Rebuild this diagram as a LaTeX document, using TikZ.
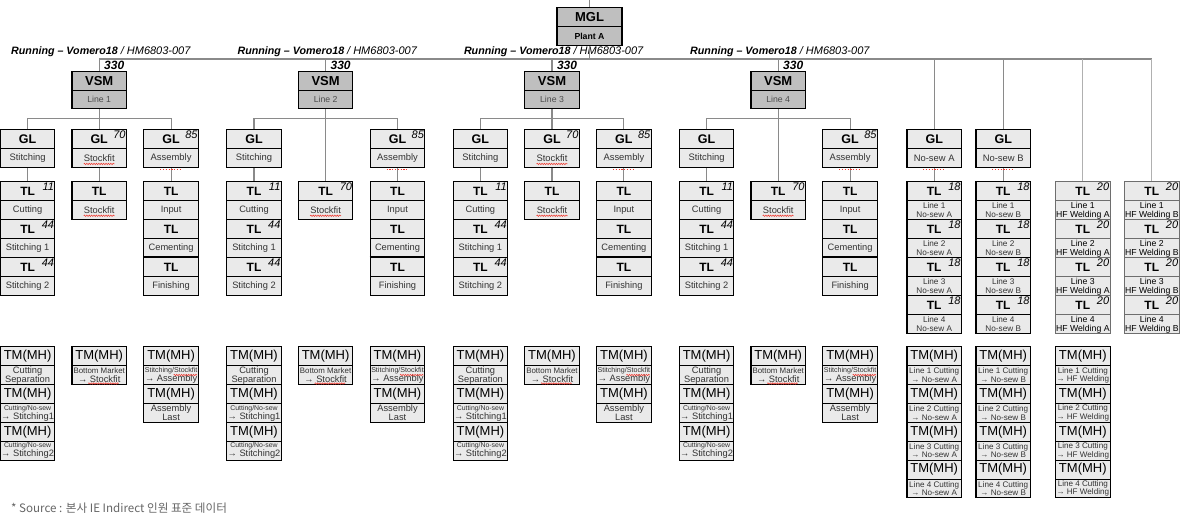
\documentclass[tikz,border=0pt]{standalone}
\usepackage{fontspec}
\setmainfont{Liberation Sans}
\newfontfamily\krfont{Noto Sans CJK KR}
\usetikzlibrary{decorations.pathmorphing}
\definecolor{boxfill}{HTML}{EAEAEA}
\definecolor{vsmfill}{HTML}{BFBFBF}
\definecolor{connc}{HTML}{8A8A8A}
\definecolor{connl}{HTML}{B0B0B0}
\definecolor{subtxt}{HTML}{333333}
\definecolor{hfline}{HTML}{6E6E6E}
\definecolor{srcgray}{HTML}{666666}
\definecolor{spellred}{HTML}{F03A30}
\newcommand\fsz[1]{\fontsize{#1}{#1}\selectfont}
\newcommand\duo[6]{%
  \node[#1t] (#2) at ({#3},{#4}) {#5};
  \node[#1s] (s#2) at ({#3},{#4+19}) {#6};}
\newcommand\nm[2]{\node[numsty] (n#1) at ([xshift=-1.2pt,yshift=-1.2pt]#1.north east) {#2};}
% wavy red mark under a word: node, left offset, right offset, down offset
\newcommand\sq[4]{\draw[redsq] ([xshift=#2pt,yshift=-#4pt]#1.center) -- ([xshift=#3pt,yshift=-#4pt]#1.center);}
\newcommand\dt[1]{\draw[reddot] ([xshift=-11pt,yshift=-1.3pt]#1.south) -- ([xshift=11pt,yshift=-1.3pt]#1.south);}
\tikzset{
  x=1pt,y=-1pt,
  cellbase/.style={draw=black, line width=1.1pt, fill=boxfill, minimum width=54.5pt, inner sep=0pt, anchor=north, align=center},
  glt/.style={cellbase, minimum height=19pt, font=\fsz{12.5}\bfseries},
  gls/.style={cellbase, minimum height=19pt, font=\fsz{9.4}, text=subtxt},
  tlt/.style={cellbase, minimum height=19pt, font=\fsz{12}\bfseries},
  tls/.style={cellbase, minimum height=19pt, font=\fsz{9.3}, text=subtxt},
  trt/.style={tlt},
  trs/.style={cellbase, minimum height=19pt, font=\fontsize{8.2}{8.8}\selectfont, text=subtxt},
  hft/.style={tlt, draw=hfline},
  hfs/.style={cellbase, draw=hfline, minimum height=19pt, font=\fontsize{8.7}{9}\selectfont, text=black},
  tmt/.style={cellbase, minimum height=19pt, font=\fsz{13}},
  tms/.style={cellbase, minimum height=18.75pt, font=\fontsize{9.3}{9}\selectfont, text=subtxt},
  rmt/.style={tmt},
  rms/.style={cellbase, minimum height=18.75pt, font=\fontsize{8.1}{8.6}\selectfont, text=subtxt},
  vsmt/.style={cellbase, fill=vsmfill, minimum height=19pt, font=\fsz{13}\bfseries},
  vsms/.style={cellbase, fill=vsmfill, minimum height=18.3pt, font=\fsz{8.7}, text=black!70},
  mglt/.style={cellbase, fill=vsmfill, minimum width=65pt, minimum height=19pt, font=\fsz{13}\bfseries},
  mgls/.style={cellbase, fill=vsmfill, minimum width=65pt, minimum height=19pt, font=\fsz{8.7}\bfseries},
  numsty/.style={inner sep=0pt, anchor=north east, font=\fsz{11}\itshape},
  runsty/.style={inner sep=0pt, anchor=west, font=\fsz{10.7}\bfseries\itshape},
  qsty/.style={inner sep=0pt, anchor=west, font=\fsz{12}\bfseries\itshape},
  conn/.style={draw=connc, line width=1.1pt},
  connlt/.style={draw=connl, line width=1.1pt},
  redsq/.style={draw=spellred, line width=0.55pt, decorate, decoration={snake, amplitude=0.7pt, segment length=2.4pt}},
  reddot/.style={draw=spellred, line width=1pt, dash pattern=on 1.2pt off 1.6pt},
}
\begin{document}
\begin{tikzpicture}
\fill[white] (0,0) rectangle (1189,513);
\useasboundingbox (0,0) rectangle (1189,513);
% top
\coordinate (top) at (589.5,0);
\coordinate (busL) at (99.2,59);
\coordinate (busR) at (1151.8,59);
\duo{mgl}{mgl}{589.5}{7.3}{MGL}{Plant A}
% groups
\foreach \g/\c/\hg in {1/99.2/1,2/325.6/0,3/552/1,4/778.2/0}{
  \pgfmathsetmacro\L{\c-71.6}
  \pgfmathsetmacro\R{\c+71.9}
  \duo{vsm}{v\g}{\c}{71}{VSM}{Line \g}
  \node[runsty] (run\g) at ({\c-88.2},51.3) {Running – Vomero18 {\mdseries\fsz{11}/ HM6803-007}};
  \node[qsty] (q\g) at ({\c+4.8},65) {330};
  \duo{gl}{gL\g}{\L}{129.3}{GL}{Stitching}
  \ifnum\hg=1
    \duo{gl}{gM\g}{\c}{129.3}{GL}{Stockfit}
    \nm{gM\g}{70}
    \sq{sgM\g}{-15.5}{15.5}{5.6}
  \fi
  \duo{gl}{gR\g}{\R}{129.3}{GL}{Assembly}
  \nm{gR\g}{85}
  \duo{tl}{tA\g}{\L}{181.3}{TL}{Cutting}
  \nm{tA\g}{11}
  \duo{tl}{tB\g}{\L}{219.3}{TL}{Stitching 1}
  \nm{tB\g}{44}
  \duo{tl}{tC\g}{\L}{257.3}{TL}{Stitching 2}
  \nm{tC\g}{44}
  \duo{tl}{tM\g}{\c}{181.3}{TL}{Stockfit}
  \sq{stM\g}{-15.5}{15.5}{5.4}
  \ifnum\hg=0
    \nm{tM\g}{70}
  \fi
  \duo{tl}{tD\g}{\R}{181.3}{TL}{Input}
  \duo{tl}{tE\g}{\R}{219.3}{TL}{Cementing}
  \duo{tl}{tF\g}{\R}{257.3}{TL}{Finishing}
  \draw[line width=2pt] (tF\g.north west) -- (tF\g.north east);
  % TM
  \duo{tm}{mA\g}{\L}{346.3}{TM(MH)}{Cutting\\Separation}
  \duo{tm}{mB\g}{\L}{384.05}{TM(MH)}{{\fsz{6.9}Cutting/No-sew}\\→ Stitching1}
  \duo{tm}{mC\g}{\L}{421.8}{TM(MH)}{{\fsz{6.9}Cutting/No-sew}\\→ Stitching2}
  \duo{tm}{mM\g}{\c}{346.3}{TM(MH)}{{\fsz{7.9}Bottom Market}\\→ Stockfit}
  \duo{tm}{mD\g}{\R}{346.3}{TM(MH)}{{\fsz{7.1}Stitching/Stockfit}\\→ Assembly}
  \duo{tm}{mE\g}{\R}{384.05}{TM(MH)}{Assembly\\Last}
  \sq{smM\g}{-11}{19.5}{8.3}
  \sq{smD\g}{2.5}{26}{-0.2}
  % connectors
  \coordinate (gb\g) at (\c,118.3);
  \draw[conn] (v\g.north |- busL) -- (v\g.north);
  \draw[conn] (sv\g.south) -- (gb\g);
  \draw[conn] (gL\g.north) |- (gb\g) -| (gR\g.north);
  \ifnum\hg=1
    \draw[conn] (gb\g) -- (gM\g.north);
    \draw[conn] (sgM\g.south) -- (tM\g.north);
  \else
    \draw[conn] (gb\g) -- (tM\g.north);
  \fi
  \draw[conn] (sgL\g.south) -- (tA\g.north);
  \draw[conn] (sgR\g.south) -- (tD\g.north);
  \dt{sgR\g}
}
% right side
\duo{gl}{gNA}{934.2}{129.3}{GL}{No-sew A}
\duo{gl}{gNB}{1003.2}{129.3}{GL}{No-sew B}
\foreach \k in {1,...,4}{
  \pgfmathsetmacro\ty{181.3+38*(\k-1)}
  \pgfmathsetmacro\my{346.3+37.75*(\k-1)}
  \duo{tr}{na\k}{934.2}{\ty}{TL}{Line \k\\No-sew A}
  \nm{na\k}{18}
  \duo{tr}{nb\k}{1003.2}{\ty}{TL}{Line \k\\No-sew B}
  \nm{nb\k}{18}
  \duo{hf}{ha\k}{1082.8}{\ty}{TL}{Line \k\\HF Welding A}
  \nm{ha\k}{20}
  \duo{hf}{hb\k}{1151.8}{\ty}{TL}{Line \k\\HF Welding B}
  \nm{hb\k}{20}
  \duo{rm}{ma\k}{934.2}{\my}{TM(MH)}{Line \k\ Cutting\\→ No-sew A}
  \duo{rm}{mb\k}{1003.2}{\my}{TM(MH)}{Line \k\ Cutting\\→ No-sew B}
  \duo{rm}{mh\k}{1082.8}{\my}{TM(MH)}{Line \k\ Cutting\\→ HF Welding}
}
% main connectors
\draw[conn] (top) -- (mgl.north);
\draw[conn] (busL) -- (busR);
\draw[conn] (smgl.south) -- (smgl.south |- busL);
\draw[conn] (gNA.north |- busL) -- (gNA.north);
\draw[conn] (gNB.north |- busL) -- (gNB.north);
\draw[conn] (sgNA.south) -- (na1.north);
\draw[conn] (sgNB.south) -- (nb1.north);
\draw[connlt] (ha1.north |- busL) -- (ha1.north);
\draw[connlt] (hb1.north |- busL) -- (hb1.north);
\dt{sgNA}
\dt{sgNB}
% source
\node[inner sep=0pt, anchor=west, text=srcgray, font=\krfont\fsz{11.6}] (src) at (11,508) {* Source : 본사 IE Indirect 인원 표준 데이터};
\end{tikzpicture}
\end{document}
